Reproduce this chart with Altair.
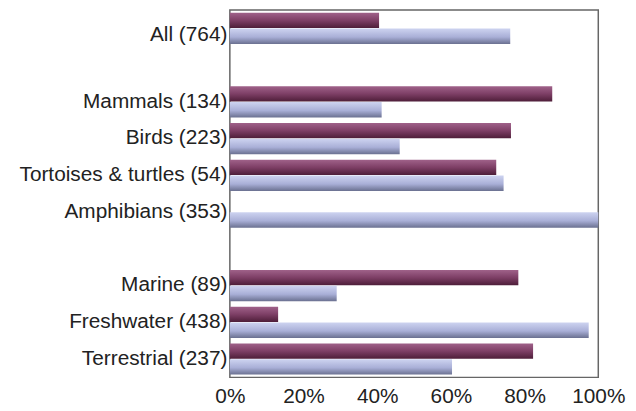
import altair as alt
import pandas as pd

categories = ["All (764)", " ", "Mammals (134)", "Birds (223)", "Tortoises & turtles (54)",
              "Amphibians (353)", "  ", "Marine (89)", "Freshwater (438)", "Terrestrial (237)"]
series_names = ["Series 1", "Series 2"]
series1 = [40.5, None, 87.5, 76.3, 72.3, 0.0, None, 78.3, 13.1, 82.3]
series2 = [76.1, None, 41.2, 46.1, 74.3, 100.0, None, 29.0, 97.4, 60.3]
tick_values = [0, 20, 40, 60, 80, 100]

rows = []
for c, a, b in zip(categories, series1, series2):
    if a is not None:
        rows.append({"category": c, "series": series_names[0], "value": a})
    if b is not None:
        rows.append({"category": c, "series": series_names[1], "value": b})
df = pd.DataFrame(rows)

FONT = "Liberation Sans"
FS = 21

maroon = alt.Gradient(
    gradient="linear", x1=0, x2=0, y1=0, y2=1,
    stops=[alt.GradientStop(color="#a0628a", offset=0),
           alt.GradientStop(color="#7e3f66", offset=0.5),
           alt.GradientStop(color="#4e1e39", offset=1)])
lavender = alt.Gradient(
    gradient="linear", x1=0, x2=0, y1=0, y2=1,
    stops=[alt.GradientStop(color="#cdd3f0", offset=0),
           alt.GradientStop(color="#a9afd7", offset=0.55),
           alt.GradientStop(color="#6b7191", offset=1)])

y_enc = alt.Y("category:N", sort=categories,
              scale=alt.Scale(domain=categories, paddingInner=0.15, paddingOuter=0.075),
              axis=alt.Axis(title=None, ticks=False, domain=False, labelFontSize=FS,
                            labelFont=FONT, labelColor="#222", labelPadding=3, labelLimit=400,
                            labelOffset={"condition": {"test": "datum.value === 'All (764)'", "value": 7}, "value": 0}))
x_enc = alt.X("value:Q", scale=alt.Scale(domain=[0, 100], nice=False),
              axis=alt.Axis(title=None, values=tick_values, grid=False, ticks=False, domain=False,
                            labelExpr="datum.value + '%'", labelFontSize=FS, labelFont=FONT,
                            labelColor="#222", labelPadding=8, labelFlush=False))
yoff = alt.YOffset("series:N", scale=alt.Scale(domain=series_names, paddingInner=0.04))

base = alt.Chart(df)
l1 = base.transform_filter(alt.datum.series == series_names[0]).mark_bar(color=maroon).encode(
    x=x_enc, y=y_enc, yOffset=yoff)
l2 = base.transform_filter(alt.datum.series == series_names[1]).mark_bar(color=lavender).encode(
    x=x_enc, y=y_enc, yOffset=yoff)

chart = alt.layer(l1, l2).properties(
    width=372, height=371, autosize="none",
    padding={"left": 224, "top": 0, "right": 30, "bottom": 32},
    background="white"
).configure_view(stroke="#666", strokeWidth=1.5)

chart.save("out.html", embed_options={"renderer": "svg", "actions": False})
